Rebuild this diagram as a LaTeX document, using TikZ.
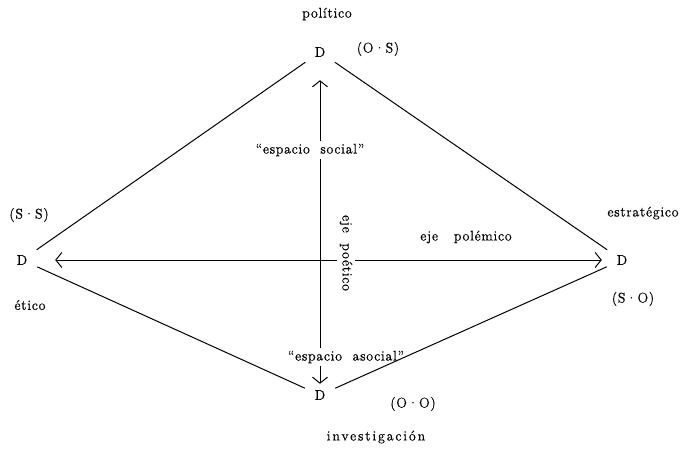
\documentclass[tikz,border=0pt]{standalone}
\usepackage{fontspec}
\setmainfont{Latin Modern Roman}[LetterSpace=5,FakeBold=0.6]
\usetikzlibrary{arrows.meta,positioning}

\tikzset{
  dnode/.style={minimum width=30pt,minimum height=20pt,inner sep=0pt,font=\fontsize{14}{16}\selectfont},
  lbl/.style={inner sep=1pt,font=\fontsize{14}{16}\selectfont},
  widelbl/.style={lbl,font=\fontsize{14}{16}\selectfont\addfontfeature{LetterSpace=13}},
  gaplbl/.style={lbl,fill=white,inner sep=3pt},
  ax/.style={line width=1pt,{Straight Barb[length=6pt,width=15pt]}-{Straight Barb[length=6pt,width=15pt]}},
  side/.style={line width=1pt}
}

\begin{document}
\begin{tikzpicture}[x=1pt,y=-1pt]
\useasboundingbox (0,0) rectangle (688,451);

% the four D's
\node[dnode] (pol) at (320,52) {D};
\node[dnode] (eti) at (22,260) {D};
\node[dnode] (est) at (622,260) {D};
\node[dnode] (inv) at (320,395) {D};

% the two axes
\draw[ax,shorten <=18pt,shorten >=1pt] (pol) -- (inv);
\draw[ax,shorten <=18pt,shorten >=5pt] (eti) -- (est);

% labels
\node[lbl] (tpol) at (327,14) {político};
\node[lbl] (os) at (378,49) {(O·S)};
\node[lbl] (ss) at (29,215) {(S·S)};
\node[lbl] (teti) at (30,305) {ético};
\node[lbl] (test) at (643,213) {estratégico};
\node[lbl] (so) at (633,299) {(S·O)};
\node[lbl] (oo) at (413,404) {(O·O)};
\node[widelbl] (tinv) at (376,437) {investigación};
\node[gaplbl] (soc) at (310,150) {``espacio\ \ social''};
\node[gaplbl] (asoc) at (346,357) {``espacio\ \ asocial''};
\node[lbl] (pole) at (466,237) {eje\ \ \ polémico};
\node[gaplbl,rotate=-90] (poet) at (346,253) {eje\ \ poético};

% sides of the diamond
\draw[side] (pol) -- (eti);
\draw[side] (pol) -- (est);
\draw[side] (inv) -- (eti);
\draw[side] (inv) -- (est);
\end{tikzpicture}
\end{document}
